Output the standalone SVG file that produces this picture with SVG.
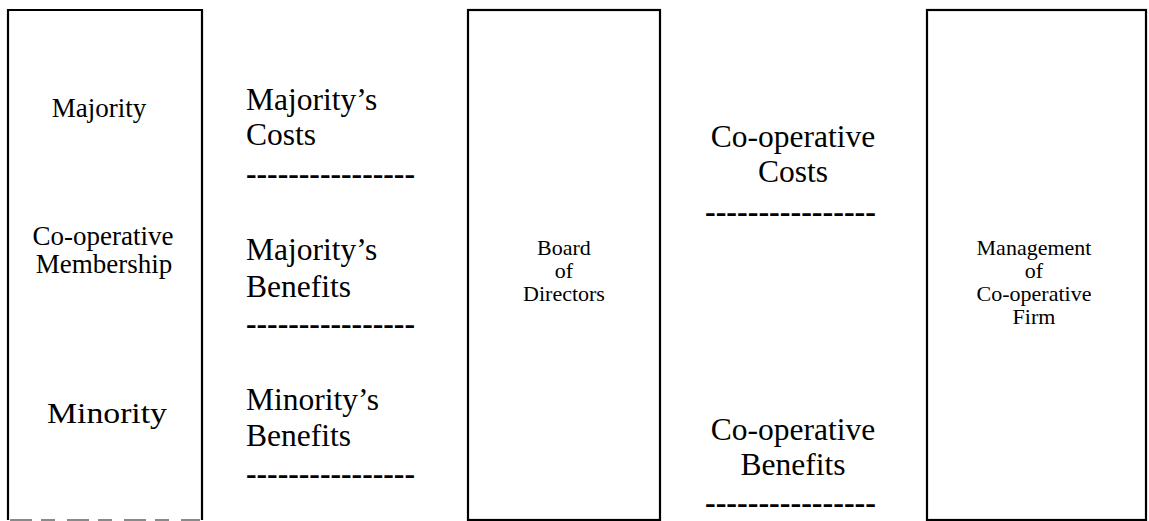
<svg xmlns="http://www.w3.org/2000/svg" width="1149" height="521" viewBox="0 0 1149 521">
  <style>
    .box { fill: #ffffff; stroke: #000000; stroke-width: 2.2; }
    .edge { fill: none; stroke: #000000; stroke-width: 2.2; }
    .faint { fill: none; stroke: #8a8a8a; stroke-width: 2; stroke-dasharray: 22 9 14 12; }
    .t { font-family: "Liberation Serif", "Times New Roman", serif; fill: #000000; }
    .big { font-size: 31.5px; }
    .mid { font-size: 27px; }
    .small { font-size: 22px; }
    .c { text-anchor: middle; }
    .rule { font-family: "Liberation Serif", "Times New Roman", serif; font-size: 31.5px; fill: #000000; font-weight: bold; }
  </style>
  <rect width="1149" height="521" fill="#ffffff"/>

  <!-- membership column: bottom edge printed faintly -->
  <g id="membership">
    <path class="edge" d="M8 520 V10 H202 V520"/>
    <path class="faint" d="M10 520 H200"/>
    <text class="t mid c" x="99" y="117">Majority</text>
    <text class="t mid c" x="103" y="245">Co-operative</text>
    <text class="t mid c" x="104" y="273">Membership</text>
    <text class="t c" x="107" y="423" font-size="29" textLength="120" lengthAdjust="spacingAndGlyphs">Minority</text>
  </g>

  <!-- board column -->
  <g id="board">
    <rect class="box" x="468" y="10" width="192" height="510"/>
    <text class="t small c" x="564" y="255">Board</text>
    <text class="t small c" x="564" y="278">of</text>
    <text class="t small c" x="564" y="301">Directors</text>
  </g>

  <!-- management column -->
  <g id="management">
    <rect class="box" x="927" y="10" width="219" height="510"/>
    <text class="t small c" x="1034" y="255">Management</text>
    <text class="t small c" x="1034" y="278">of</text>
    <text class="t small c" x="1034" y="301">Co-operative</text>
    <text class="t small c" x="1034" y="324">Firm</text>
  </g>

  <!-- interests between members and board -->
  <g id="member-interests">
    <text class="t big" x="246" y="110">Majority’s</text>
    <text class="t big" x="246" y="145">Costs</text>
    <text class="rule" x="246" y="184" textLength="169" lengthAdjust="spacingAndGlyphs">----------------</text>

    <text class="t big" x="246" y="260">Majority’s</text>
    <text class="t big" x="246" y="297">Benefits</text>
    <text class="rule" x="246" y="334" textLength="169" lengthAdjust="spacingAndGlyphs">----------------</text>

    <text class="t big" x="246" y="410">Minority’s</text>
    <text class="t big" x="246" y="446">Benefits</text>
    <text class="rule" x="246" y="484" textLength="169" lengthAdjust="spacingAndGlyphs">----------------</text>
  </g>

  <!-- interests between board and management -->
  <g id="firm-interests">
    <text class="t big c" x="793" y="147">Co-operative</text>
    <text class="t big c" x="793" y="182">Costs</text>
    <text class="rule" x="705" y="222" textLength="171" lengthAdjust="spacingAndGlyphs">----------------</text>

    <text class="t big c" x="793" y="440">Co-operative</text>
    <text class="t big c" x="793" y="475">Benefits</text>
    <text class="rule" x="705" y="513" textLength="171" lengthAdjust="spacingAndGlyphs">----------------</text>
  </g>

  <g id="connectors"/>
</svg>
